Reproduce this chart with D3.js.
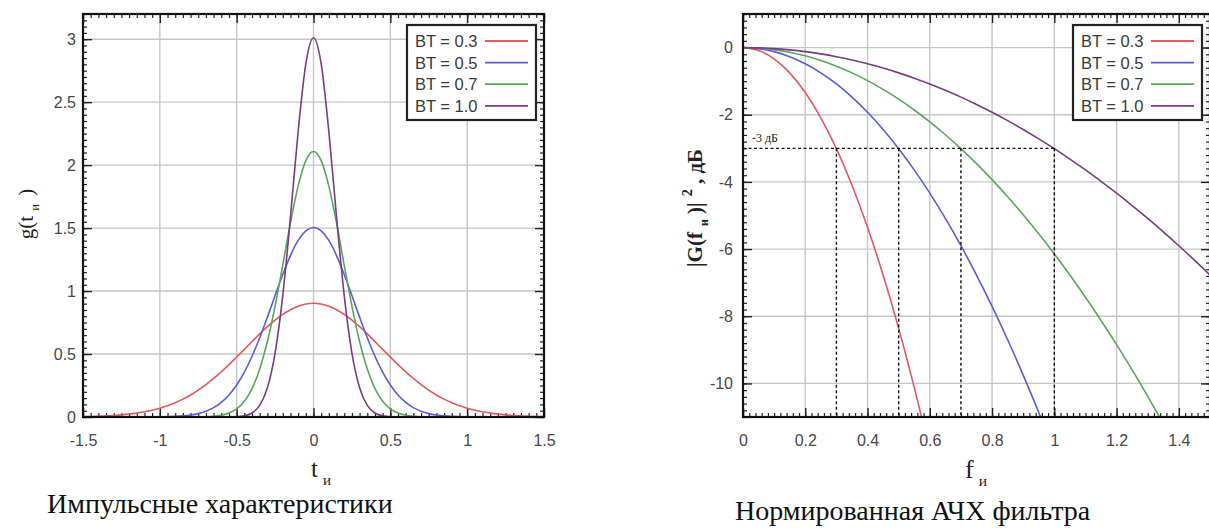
<!DOCTYPE html>
<html>
<head>
<meta charset="utf-8">
<script src="https://cdn.jsdelivr.net/npm/d3@7"></script>
<style>
  html, body { margin: 0; padding: 0; background: #fff; }
  svg { display: block; }
</style>
</head>
<body>
<svg id="chart" width="1209" height="529"></svg>
<script>
// ---------------- DATA ----------------
const seriesNames = ["BT = 0.3", "BT = 0.5", "BT = 0.7", "BT = 1.0"];
const seriesColors = ["#e4585c", "#5a5ce0", "#5aa65a", "#7a3a84"];

// Left chart: impulse responses g(t_и)
const tValues = [-1.5,-1.45,-1.4,-1.35,-1.3,-1.25,-1.2,-1.15,-1.1,-1.05,-1.0,-0.95,-0.9,-0.85,-0.8,-0.75,-0.7,-0.65,-0.6,-0.55,-0.5,-0.45,-0.4,-0.35,-0.3,-0.25,-0.2,-0.15,-0.1,-0.05,0,0.05,0.1,0.15,0.2,0.25,0.3,0.35,0.4,0.45,0.5,0.55,0.6,0.65,0.7,0.75,0.8,0.85,0.9,0.95,1.0,1.05,1.1,1.15,1.2,1.25,1.3,1.35,1.4,1.45,1.5];
const g03 = [0.003,0.004,0.006,0.009,0.012,0.017,0.023,0.031,0.041,0.054,0.070,0.089,0.113,0.142,0.175,0.214,0.257,0.306,0.359,0.416,0.476,0.537,0.599,0.660,0.717,0.769,0.815,0.852,0.880,0.897,0.903,0.897,0.880,0.852,0.815,0.769,0.717,0.660,0.599,0.537,0.476,0.416,0.359,0.306,0.257,0.214,0.175,0.142,0.113,0.089,0.070,0.054,0.041,0.031,0.023,0.017,0.012,0.009,0.006,0.004,0.003];
const g05 = [0,0,0,0,0,0,0,0,0,0,0.001,0.002,0.005,0.009,0.016,0.027,0.046,0.074,0.116,0.175,0.254,0.356,0.482,0.629,0.793,0.964,1.132,1.282,1.402,1.478,1.505,1.478,1.402,1.282,1.132,0.964,0.793,0.629,0.482,0.356,0.254,0.175,0.116,0.074,0.046,0.027,0.016,0.009,0.005,0.002,0.001,0,0,0,0,0,0,0,0,0,0];
const g07 = [0,0,0,0,0,0,0,0,0,0,0,0,0,0,0,0.001,0.002,0.006,0.014,0.031,0.064,0.125,0.226,0.382,0.600,0.881,1.206,1.540,1.833,2.036,2.108,2.036,1.833,1.540,1.206,0.881,0.600,0.382,0.226,0.125,0.064,0.031,0.014,0.006,0.002,0.001,0,0,0,0,0,0,0,0,0,0,0,0,0,0,0];
const g10 = [0,0,0,0,0,0,0,0,0,0,0,0,0,0,0,0,0,0,0,0.001,0.002,0.009,0.032,0.092,0.232,0.508,0.964,1.587,2.265,2.804,3.011,2.804,2.265,1.587,0.964,0.508,0.232,0.092,0.032,0.009,0.002,0.001,0,0,0,0,0,0,0,0,0,0,0,0,0,0,0,0,0,0,0];

// Right chart: normalised |G(f_и)|^2, dB
const fValues = [0,0.05,0.1,0.15,0.2,0.25,0.3,0.35,0.4,0.45,0.5,0.55,0.6,0.65,0.7,0.75,0.8,0.85,0.9,0.95,1.0,1.05,1.1,1.15,1.2,1.25,1.3,1.35,1.4,1.45,1.5];
const dB03 = [0,-0.084,-0.334,-0.753,-1.338,-2.090,-3.010,-4.097,-5.352,-6.773,-8.362,-10.118,-12.041];
const dB05 = [0,-0.030,-0.120,-0.271,-0.482,-0.753,-1.084,-1.475,-1.927,-2.438,-3.010,-3.642,-4.335,-5.087,-5.900,-6.773,-7.706,-8.700,-9.753,-10.867,-12.041];
const dB07 = [0,-0.015,-0.061,-0.138,-0.246,-0.384,-0.553,-0.753,-0.983,-1.244,-1.536,-1.858,-2.212,-2.596,-3.010,-3.456,-3.932,-4.439,-4.976,-5.545,-6.144,-6.773,-7.434,-8.125,-8.847,-9.599,-10.383,-11.197];
const dB10 = [0,-0.008,-0.030,-0.068,-0.120,-0.188,-0.271,-0.369,-0.482,-0.610,-0.753,-0.911,-1.084,-1.272,-1.475,-1.693,-1.927,-2.175,-2.438,-2.717,-3.010,-3.319,-3.643,-3.981,-4.335,-4.704,-5.087,-5.486,-5.900,-6.329,-6.773];

const cutoffF = [0.3, 0.5, 0.7, 1.0];
const cutoffLevel = -3;
const cutoffLabel = "-3 дБ";

const xTicksL = [-1.5,-1,-0.5,0,0.5,1,1.5];
const yTicksL = [0,0.5,1,1.5,2,2.5,3];
const xTicksR = [0,0.2,0.4,0.6,0.8,1,1.2,1.4];
const yTicksR = [0,-2,-4,-6,-8,-10];

const captionL = "Импульсные характеристики";
const captionR = "Нормированная АЧХ фильтра";

// ---------------- DRAW ----------------
const svg = d3.select("#chart");
const tickFont = "'Liberation Sans', Arial, sans-serif";
const serif = "'Liberation Serif', 'DejaVu Serif', serif";

function panel(opts) {
  const { id, x, y, xTicks, yTicks, xMinorCount, yMinorCount, series, xVals, yPad } = opts;
  const [x0, x1] = x.range();
  const [y0, y1] = y.range(); // y0 bottom, y1 top
  const g = svg.append("g");

  g.append("clipPath").attr("id", id).append("rect")
    .attr("x", x0).attr("y", y1).attr("width", x1 - x0).attr("height", y0 - y1);

  // grid
  const grid = g.append("g").attr("stroke", "#c6c6c6").attr("stroke-width", 1.4);
  grid.selectAll("line.gx").data(xTicks.filter(d => d !== x.domain()[0] && d !== x.domain()[1]))
    .join("line").attr("x1", d => x(d)).attr("x2", d => x(d)).attr("y1", y1).attr("y2", y0);
  grid.selectAll("line.gy").data(yTicks.filter(d => d !== y.domain()[0] && d !== y.domain()[1]))
    .join("line").attr("x1", x0).attr("x2", x1).attr("y1", d => y(d)).attr("y2", d => y(d));

  // axes: minor ticks on all sides (inward)
  const minorStyle = sel => { sel.select(".domain").remove(); sel.selectAll("text").remove(); sel.selectAll("line").attr("stroke", "#222").attr("stroke-width", 1.2); };
  const xm = x.ticks(xMinorCount), ym = y.ticks(yMinorCount);
  g.append("g").attr("transform", `translate(0,${y0})`).call(d3.axisBottom(x).tickValues(xm).tickSize(-4)).call(minorStyle);
  g.append("g").attr("transform", `translate(0,${y1})`).call(d3.axisTop(x).tickValues(xm).tickSize(-4)).call(minorStyle);
  g.append("g").attr("transform", `translate(${x0},0)`).call(d3.axisLeft(y).tickValues(ym).tickSize(-4)).call(minorStyle);
  g.append("g").attr("transform", `translate(${x1},0)`).call(d3.axisRight(y).tickValues(ym).tickSize(-4)).call(minorStyle);

  // major ticks with labels
  const fmt = d => String(d);
  const bx = g.append("g").attr("transform", `translate(0,${y0})`)
    .call(d3.axisBottom(x).tickValues(xTicks).tickSize(-9).tickPadding(18).tickFormat(fmt));
  const lx = g.append("g").attr("transform", `translate(${x0},0)`)
    .call(d3.axisLeft(y).tickValues(yTicks).tickSize(-9).tickPadding(yPad).tickFormat(fmt));
  const tx = g.append("g").attr("transform", `translate(0,${y1})`)
    .call(d3.axisTop(x).tickValues(xTicks).tickSize(-9).tickFormat(""));
  const rx = g.append("g").attr("transform", `translate(${x1},0)`)
    .call(d3.axisRight(y).tickValues(yTicks).tickSize(-9).tickFormat(""));
  [bx, lx, tx, rx].forEach(a => {
    a.select(".domain").remove();
    a.selectAll("line").attr("stroke", "#222").attr("stroke-width", 1.4);
    a.selectAll("text").attr("font-family", tickFont).attr("font-size", 16).attr("fill", "#474747");
  });

  // curves
  const line = d3.line().x(d => x(d[0])).y(d => y(d[1])).curve(d3.curveMonotoneX);
  const cg = g.append("g").attr("clip-path", `url(#${id})`);
  series.forEach((vals, i) => {
    const pts = vals.map((v, k) => [xVals[k], v]);
    cg.append("path").attr("d", line(pts)).attr("fill", "none")
      .attr("stroke", seriesColors[i]).attr("stroke-width", 1.6);
  });

  return { g, cg };
}

function frame(g, x, y) {
  const [x0, x1] = x.range(); const [y0, y1] = y.range();
  g.append("rect").attr("x", x0).attr("y", y1).attr("width", x1 - x0).attr("height", y0 - y1)
    .attr("fill", "none").attr("stroke", "#111").attr("stroke-width", 2.2);
}

function legend(g, x, y) {
  const [, x1] = x.range(); const [, y1] = y.range();
  const bx = x1 - 137, by = y1 + 11, bw = 129, bh = 95;
  const lg = g.append("g");
  lg.append("rect").attr("x", bx).attr("y", by).attr("width", bw).attr("height", bh)
    .attr("fill", "#fff").attr("stroke", "#222").attr("stroke-width", 2.2);
  seriesNames.forEach((name, i) => {
    const cy = by + 16 + i * 21.6;
    lg.append("text").attr("x", bx + 8).attr("y", cy + 6).text(name)
      .attr("font-family", tickFont).attr("font-size", 16.5).attr("fill", "#3a3a3a");
    lg.append("line").attr("x1", bx + 78).attr("x2", bx + 121).attr("y1", cy).attr("y2", cy)
      .attr("stroke", seriesColors[i]).attr("stroke-width", 1.8);
  });
}

// Left panel
const xL = d3.scaleLinear().domain([-1.5, 1.5]).range([83, 544]);
const yL = d3.scaleLinear().domain([0, 3.2]).range([417, 14]);
const left = panel({ id: "clipL", x: xL, y: yL, xTicks: xTicksL, yTicks: yTicksL,
  xMinorCount: 60, yMinorCount: 64, series: [g03, g05, g07, g10], xVals: tValues, yPad: 7 });
frame(left.g, xL, yL);
legend(left.g, xL, yL);

// Right panel
const xR = d3.scaleLinear().domain([0, 1.5]).range([743, 1210]);
const yR = d3.scaleLinear().domain([-11, 1]).range([417, 14]);
const right = panel({ id: "clipR", x: xR, y: yR, xTicks: xTicksR, yTicks: yTicksR,
  xMinorCount: 75, yMinorCount: 60, series: [dB03, dB05, dB07, dB10], xVals: fValues, yPad: 10 });

// -3 dB guides
const guide = right.cg.append("g").attr("stroke", "#111").attr("stroke-width", 1.4).attr("stroke-dasharray", "3,2.5");
guide.append("line").attr("x1", xR(0)).attr("x2", xR(d3.max(cutoffF)))
  .attr("y1", yR(cutoffLevel)).attr("y2", yR(cutoffLevel));
guide.selectAll("line.v").data(cutoffF).join("line")
  .attr("x1", d => xR(d)).attr("x2", d => xR(d))
  .attr("y1", yR(cutoffLevel)).attr("y2", yR(-11));
right.g.append("text").attr("x", xR(0) + 9).attr("y", yR(cutoffLevel) - 6)
  .text(cutoffLabel).attr("font-family", serif).attr("font-size", 12).attr("fill", "#222");
frame(right.g, xR, yR);
legend(right.g, xR, yR);

// Axis titles
function subTitle(x, y, main, sub, tail, rotate, size) {
  const t = svg.append("text").attr("font-family", serif).attr("font-size", size)
    .attr("fill", "#222").attr("text-anchor", "middle");
  if (rotate) t.attr("transform", `translate(${x},${y}) rotate(-90)`);
  else t.attr("x", x).attr("y", y);
  t.append("tspan").text(main);
  t.append("tspan").text(sub).attr("font-size", size * 0.6).attr("dy", size * 0.3).attr("dx", 5);
  if (tail) t.append("tspan").text(tail).attr("dy", -size * 0.3).attr("dx", 3);
  return t;
}
subTitle(321, 477, "t", "и", null, false, 25);
subTitle(976, 478, "f", "и", null, false, 26);
subTitle(33, 214, "g(t", "и", "  )", true, 21);

const yLabR = svg.append("text").attr("font-family", serif).attr("font-size", 21).attr("font-weight", "bold")
  .attr("fill", "#222").attr("text-anchor", "middle").attr("transform", "translate(702,208) rotate(-90)");
yLabR.append("tspan").text("|G(f");
yLabR.append("tspan").text("и").attr("font-size", 12).attr("dy", 6).attr("dx", 6);
yLabR.append("tspan").text("  )|").attr("dy", -6);
yLabR.append("tspan").text("2").attr("font-size", 14).attr("dy", -10).attr("dx", 6);
yLabR.append("tspan").text(" ,  дБ").attr("dy", 10);

// Captions
svg.append("text").attr("x", 47).attr("y", 513).text(captionL)
  .attr("font-family", serif).attr("font-size", 28).attr("fill", "#111");
svg.append("text").attr("x", 735).attr("y", 520).text(captionR)
  .attr("font-family", serif).attr("font-size", 28).attr("fill", "#111");
</script>
</body>
</html>
